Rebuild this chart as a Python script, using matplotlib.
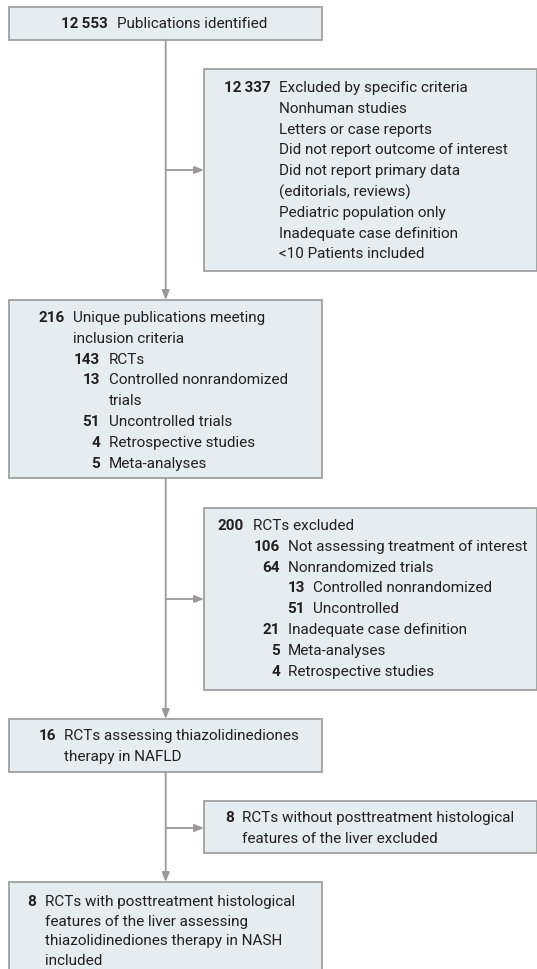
import matplotlib
matplotlib.use("Agg")
import matplotlib.pyplot as plt
from matplotlib.patches import Rectangle
from matplotlib import font_manager

# Flowchart content: (count, label, level); count "" marks a wrapped line
identified = [("12\u2009553", "Publications identified", 0)]
excluded_criteria = [
    ("12\u2009337", "Excluded by specific criteria", 0),
    ("", "Nonhuman studies", 0),
    ("", "Letters or case reports", 0),
    ("", "Did not report outcome of interest", 0),
    ("", "Did not report primary data", 0),
    ("", "(editorials, reviews)", 0),
    ("", "Pediatric population only", 0),
    ("", "Inadequate case definition", 0),
    ("", "<10 Patients included", 0),
]
unique_pubs = [
    ("216", "Unique publications meeting", 0),
    ("", "inclusion criteria", 0),
    ("143", "RCTs", 1),
    ("13", "Controlled nonrandomized", 1),
    ("", "trials", 1),
    ("51", "Uncontrolled trials", 1),
    ("4", "Retrospective studies", 1),
    ("5", "Meta-analyses", 1),
]
rcts_excluded = [
    ("200", "RCTs excluded", 0),
    ("106", "Not assessing treatment of interest", 1),
    ("64", "Nonrandomized trials", 1),
    ("13", "Controlled nonrandomized", 2),
    ("51", "Uncontrolled", 2),
    ("21", "Inadequate case definition", 1),
    ("5", "Meta-analyses", 1),
    ("4", "Retrospective studies", 1),
]
tzd_rcts = [
    ("16", "RCTs assessing thiazolidinediones", 0),
    ("", "therapy in NAFLD", 0),
]
no_histology = [
    ("8", "RCTs without posttreatment histological", 0),
    ("", "features of the liver excluded", 0),
]
included = [
    ("8", "RCTs with posttreatment histological", 0),
    ("", "features of the liver assessing", 0),
    ("", "thiazolidinediones therapy in NASH", 0),
    ("", "included", 0),
]

W, H = 537, 970
FILL = "#e6edf1"
EDGE = "#a0a0a0"
LINE = "#999999"
TXT = "#231f20"
LINE_STEP = 20.8

installed = {f.name for f in font_manager.fontManager.ttflist}
base = "Liberation Sans Narrow" if "Liberation Sans Narrow" in installed else "Roboto"
FAMILY = [base, "DejaVu Sans"]
FS = 11.0

fig = plt.figure(figsize=(W / 100, H / 100), dpi=100)
ax = fig.add_axes([0, 0, 1, 1])
ax.set_xlim(0, W)
ax.set_ylim(H, 0)
ax.axis("off")


def box(x0, y0, x1, y1):
    ax.add_patch(Rectangle((x0, y0), x1 - x0, y1 - y0, facecolor=FILL,
                           edgecolor=EDGE, linewidth=1.3, zorder=1))


def write(lines, y_first, cols, step=LINE_STEP):
    # cols[level] = (right edge of count, left edge of label)
    for i, (num, label, level) in enumerate(lines):
        y = y_first + i * step
        num_x, text_x = cols[level]
        if num:
            ax.text(num_x, y, num, ha="right", va="center", fontsize=FS,
                    fontweight="bold", color=TXT, family=FAMILY)
        ax.text(text_x, y, label, ha="left", va="center", fontsize=FS,
                color=TXT, family=FAMILY)


def arrow(x0, y0, x1, y1):
    ax.annotate("", xy=(x1, y1), xytext=(x0, y0),
                arrowprops=dict(arrowstyle="-|>,head_length=0.55,head_width=0.22",
                                color=LINE, lw=1.3, shrinkA=0, shrinkB=0),
                zorder=2)


CX = 165.7
LEFT, MID_R = 9, 322
RIGHT_L, RIGHT_R = 204, 537

# boxes
box(LEFT, 8, MID_R, 41)
box(RIGHT_L, 70, RIGHT_R, 272)
box(LEFT, 301, MID_R, 479)
box(RIGHT_L, 509, RIGHT_R, 691)
box(LEFT, 720, MID_R, 773)
box(RIGHT_L, 802, RIGHT_R, 854)
box(LEFT, 883, MID_R, 1000)

# connectors
arrow(CX, 41, CX, 301)
arrow(CX, 171, RIGHT_L, 171)
arrow(CX, 479, CX, 720)
arrow(CX, 600, RIGHT_L, 600)
arrow(CX, 773, CX, 883)
arrow(CX, 829, RIGHT_L, 829)

# texts
write(identified, 24.5, {0: (108, 117)})
write(excluded_criteria, 88, {0: (271, 279)})
write(unique_pubs, 318, {0: (65, 73), 1: (100, 109)})
write(rcts_excluded, 526, {0: (244, 253), 1: (280, 288), 2: (305, 313)})
write(tzd_rcts, 736, {0: (56, 64)})
write(no_histology, 818, {0: (234, 242)})
write(included, 902, {0: (36, 45)}, step=19.6)

fig.savefig("out.png", dpi=100)
